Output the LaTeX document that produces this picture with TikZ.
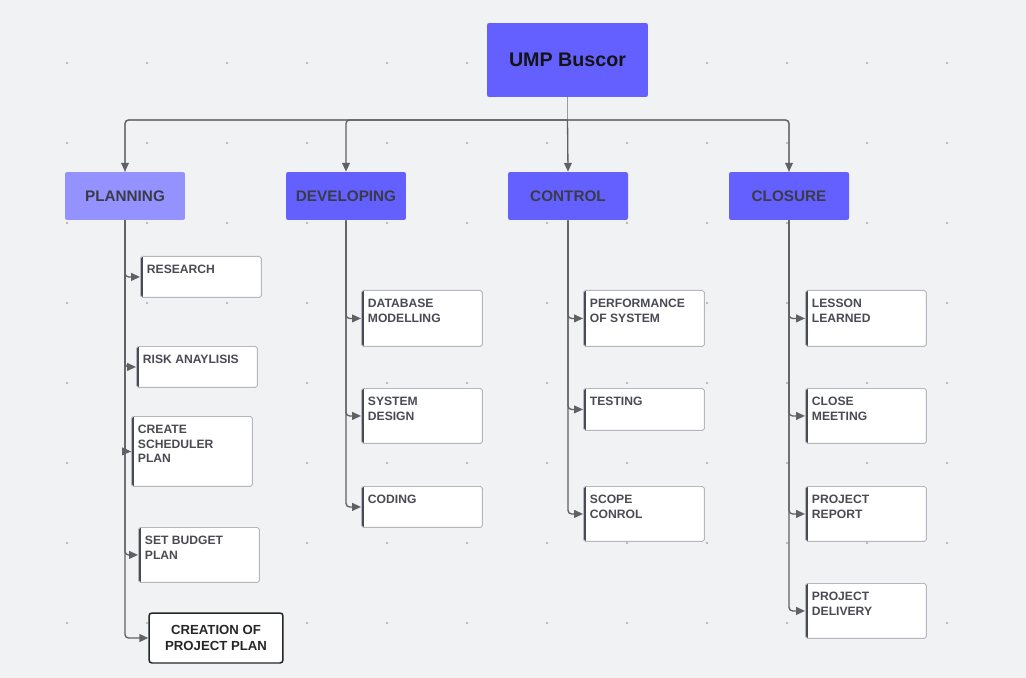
\documentclass[tikz,border=0pt]{standalone}
\usepackage{fontspec}
\setmainfont{Liberation Sans}
\usetikzlibrary{positioning, arrows.meta}
\definecolor{cBack}{HTML}{F1F2F4}
\definecolor{cRoot}{HTML}{6360FF}
\definecolor{cPhase}{HTML}{6360FF}
\definecolor{cPhaseLight}{HTML}{9492FF}
\definecolor{cLine}{HTML}{606066}
\definecolor{cBus}{HTML}{9A9AA0}
\definecolor{cText}{HTML}{3B3B48}
\definecolor{cTask}{HTML}{4A4A55}
\definecolor{cEdge}{HTML}{B6B6BE}
\definecolor{cDot}{HTML}{A6A6AC}
\newcommand{\tasktext}[2]{\parbox[c][#1][t]{2.16cm}{\raggedright #2}}
\tikzset{
  rootbox/.style={
    fill=cRoot, rounded corners=1.2pt,
    minimum width=3.22cm, minimum height=1.48cm,
    font=\fontsize{11.2}{13}\selectfont\bfseries, text=black!92
  },
  phasebox/.style={
    fill=#1, rounded corners=1.2pt,
    minimum width=2.4cm, minimum height=0.96cm,
    font=\fontsize{8.7}{10}\selectfont\bfseries, text=cText
  },
  taskbox/.style={
    draw=cEdge, fill=white, line width=0.5pt, rounded corners=1.1pt,
    anchor=north west, minimum width=2.42cm,
    inner xsep=0.13cm, inner ysep=0.18cm,
    font=\fontsize{6.9}{8.1}\selectfont\bfseries, text=cTask,
    path picture={\draw[line width=2.4pt, cTask]
      (path picture bounding box.south west) -- (path picture bounding box.north west);}
  },
  endbox/.style={
    draw=black!85, fill=white, line width=0.85pt, rounded corners=1.7pt,
    minimum width=2.68cm, minimum height=1.0cm, align=center,
    font=\fontsize{7.5}{9}\selectfont\bfseries, text=black!85
  },
  link/.style={
    draw=cLine, line width=0.75pt, rounded corners=2pt,
    -{Triangle[length=5pt, width=4.4pt]}
  },
  busline/.style={
    draw=cBus, line width=0.75pt, rounded corners=2pt
  },
}

\begin{document}
\begin{tikzpicture}[x=0.02cm, y=-0.02cm]

% ---- canvas ----
\fill[cBack] (0,0) rectangle (1026,678);
\useasboundingbox (0,0) rectangle (1026,678);
\foreach \x in {67,147,...,987}
  \foreach \y in {63,143,...,623}
    \fill[cDot] (\x,\y) circle (0.65pt);

% ---- root ----
\node[rootbox] (root) at (567.5,60) {UMP Buscor};
\coordinate (bus) at (567.5,120);

% ---- phases ----
\node[phasebox=cPhaseLight] (plan) at (125,196) {PLANNING};
\node[phasebox=cPhase] (dev) at (346,196) {DEVELOPING};
\node[phasebox=cPhase] (ctrl) at (568,196) {CONTROL};
\node[phasebox=cPhase] (clos) at (789,196) {CLOSURE};

\draw[busline] (root.south) -- (bus);
\draw[busline] (bus) -| (plan.north);
\draw[busline] (bus) -| (clos.north);
\draw[link] (bus) -| (plan.north);
\draw[link] (bus) -| (dev.north);
\draw[link] (bus) -- (ctrl.north);
\draw[link] (bus) -| (clos.north);

% ---- planning ----
\node[taskbox] (res) at (140,256) {\tasktext{0.46cm}{RESEARCH}};
\node[taskbox] (risk) at (136,346) {\tasktext{0.46cm}{RISK ANAYLISIS}};
\node[taskbox] (sched) at (131,416) {\tasktext{1.04cm}{CREATE\\SCHEDULER\\PLAN}};
\node[taskbox] (budget) at (138,527) {\tasktext{0.74cm}{SET BUDGET\\PLAN}};
\node[endbox] (final) at (216,638) {CREATION OF\\PROJECT PLAN};

\foreach \t in {res, risk, sched, budget, final}
  \draw[link] (plan.south) |- (\t.west);

% ---- developing ----
\node[taskbox] (db) at (361,290) {\tasktext{0.76cm}{DATABASE\\MODELLING}};
\node[taskbox] (sysd) at (361,388) {\tasktext{0.74cm}{SYSTEM\\DESIGN}};
\node[taskbox] (code) at (361,486) {\tasktext{0.46cm}{CODING}};

\foreach \t in {db, sysd, code}
  \draw[link] (dev.south) |- (\t.west);

% ---- control ----
\node[taskbox] (perf) at (583,290) {\tasktext{0.76cm}{PERFORMANCE\\OF SYSTEM}};
\node[taskbox] (test) at (583,388) {\tasktext{0.48cm}{TESTING}};
\node[taskbox] (scope) at (583,486) {\tasktext{0.74cm}{SCOPE\\CONROL}};

\foreach \t in {perf, test, scope}
  \draw[link] (ctrl.south) |- (\t.west);

% ---- closure ----
\node[taskbox] (lesson) at (805,290) {\tasktext{0.76cm}{LESSON\\LEARNED}};
\node[taskbox] (meet) at (805,388) {\tasktext{0.74cm}{CLOSE\\MEETING}};
\node[taskbox] (report) at (805,486) {\tasktext{0.74cm}{PROJECT\\REPORT}};
\node[taskbox] (deliv) at (805,583) {\tasktext{0.74cm}{PROJECT\\DELIVERY}};

\foreach \t in {lesson, meet, report, deliv}
  \draw[link] (clos.south) |- (\t.west);

\end{tikzpicture}
\end{document}
